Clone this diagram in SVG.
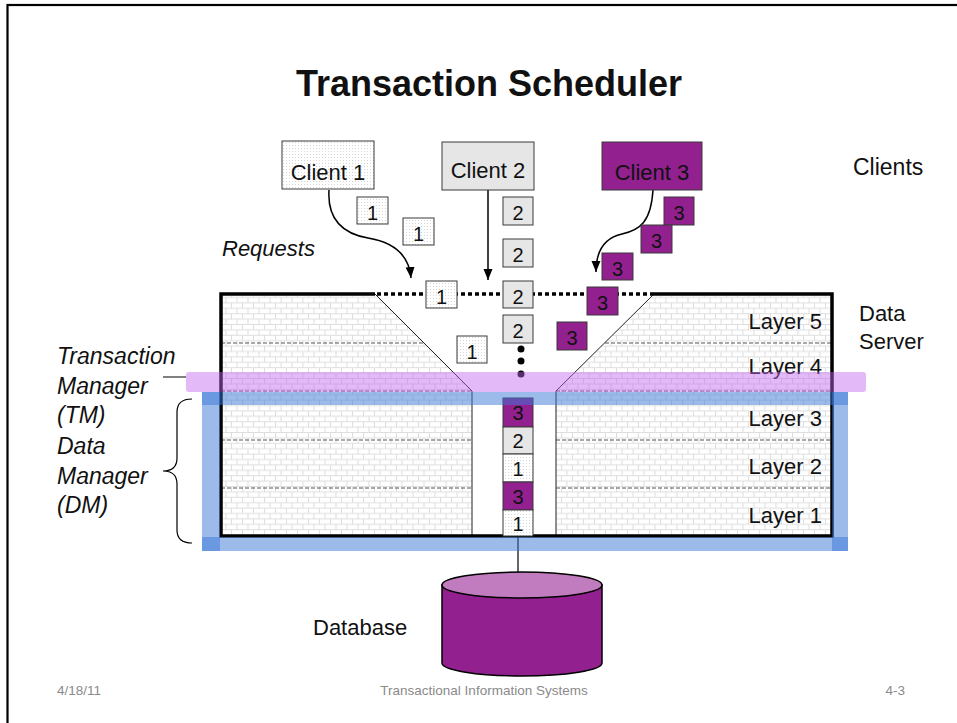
<svg xmlns="http://www.w3.org/2000/svg" width="957" height="723" viewBox="0 0 957 723">
<style>
.t{font-family:"Liberation Sans",Arial,sans-serif;fill:#111}
.it{font-style:italic}
.c{text-anchor:middle}
.r{text-anchor:end}
.num{font-family:"Liberation Sans",Arial,sans-serif;font-size:20px;text-anchor:middle;fill:#111}
.bx{stroke:#3a3a3a;stroke-width:1}
.w{fill:url(#dots)}
.g{fill:#e6e6e6}
.p{fill:#92208f}
.dash{stroke:#555;stroke-width:1;stroke-dasharray:4 2;fill:none}
.thin{stroke:#222;stroke-width:1;fill:none}
.blue{stroke:#3a78d8;stroke-opacity:0.5;fill:none}
.foot{font-family:"Liberation Sans",Arial,sans-serif;font-size:13.5px;fill:#8a8a8a}
</style>
<defs>
<pattern id="dots" width="3" height="3" patternUnits="userSpaceOnUse">
<rect width="3" height="3" fill="#ffffff"/>
<rect x="1" y="1" width="1" height="1" fill="#d6d6d6"/>
</pattern>
<pattern id="brick" width="11" height="10.8" patternUnits="userSpaceOnUse">
<rect width="11" height="10.8" fill="#ffffff"/>
<path d="M0,0.5H11M0,5.9H11M0.5,0V5.4M6,5.4V10.8" stroke="#dedede" stroke-width="1" fill="none"/>
</pattern>
<marker id="ah" markerUnits="userSpaceOnUse" markerWidth="12" markerHeight="10" refX="11" refY="4.5" orient="auto">
<path d="M0,0 L11,4.5 L0,9 z" fill="#000"/>
</marker>
</defs>

<rect x="7.5" y="5" width="980" height="760" fill="#fff" stroke="#000" stroke-width="2.2"/>

<text class="t c" x="489" y="96" font-size="36" font-weight="bold">Transaction Scheduler</text>

<g id="data-server">
<path d="M221,294 L375,294 L472,391 L472,536 L221,536 Z" fill="url(#brick)"/>
<path d="M654,294 L832,294 L832,536 L556,536 L556,391 Z" fill="url(#brick)"/>
<path class="dash" d="M221,343H424M605,343H832M221,391H472M556,391H832M221,440H472M556,440H832M221,488H472M556,488H832"/>
<path class="thin" d="M375,294 L472,391 L472,536 M654,294 L556,391 L556,536"/>
<path d="M375,294 L221,294 L221,536 L832,536 L832,294 L654,294" fill="none" stroke="#000" stroke-width="3.5"/>
<text class="t r" x="822" y="329" font-size="22">Layer 5</text>
<text class="t r" x="822" y="374" font-size="22">Layer 4</text>
<text class="t r" x="822" y="426" font-size="22">Layer 3</text>
<text class="t r" x="822" y="474" font-size="22">Layer 2</text>
<text class="t r" x="822" y="523" font-size="22">Layer 1</text>
<text class="t" x="859" y="321" font-size="22">Data</text>
<text class="t" x="859" y="349" font-size="22">Server</text>
</g>

<g id="connectors">
<path d="M377,294 H655" stroke="#000" stroke-width="3.5" stroke-dasharray="4 3" fill="none"/>
<path d="M329,190 C327,222 345,234 368,238 C392,242 409,254 411,278" fill="none" stroke="#000" stroke-width="1.5" marker-end="url(#ah)"/>
<path d="M488,190 L488,280" fill="none" stroke="#000" stroke-width="1.5" marker-end="url(#ah)"/>
<path d="M653,190 C651,222 640,230 622,234 C604,238 596,252 596,272" fill="none" stroke="#000" stroke-width="1.5" marker-end="url(#ah)"/>
<path d="M518,536 V573" stroke="#000" stroke-width="1.2"/>
<path d="M163,377 H186" stroke="#000" stroke-width="1"/>
</g>

<g id="client1">
<rect class="bx w" x="282" y="141" width="92" height="48"/>
<text class="t c" x="328" y="180" font-size="22">Client 1</text>
</g>
<g id="client2">
<rect class="bx g" x="442" y="142" width="92" height="48"/>
<text class="t c" x="488" y="178" font-size="22">Client 2</text>
</g>
<g id="client3">
<rect class="bx p" x="602" y="142" width="100" height="48"/>
<text class="t c" x="652" y="180" font-size="22">Client 3</text>
</g>
<g id="clients-label">
<text class="t" x="853" y="175" font-size="23">Clients</text>
</g>
<g id="requests-label">
<text class="t it" x="222" y="256" font-size="22">Requests</text>
</g>

<g id="requests1">
<rect class="bx w" x="357" y="197" width="31" height="27"/><text class="num" x="372.5" y="220">1</text>
<rect class="bx w" x="403" y="218" width="31" height="27"/><text class="num" x="418.5" y="241">1</text>
<rect class="bx w" x="426" y="281" width="31" height="27"/><text class="num" x="441.5" y="304">1</text>
<rect class="bx w" x="457" y="336" width="30" height="27"/><text class="num" x="472" y="359">1</text>
</g>
<g id="requests2">
<rect class="bx g" x="503" y="197" width="30" height="28"/><text class="num" x="518" y="220">2</text>
<rect class="bx g" x="503" y="239" width="30" height="28"/><text class="num" x="518" y="262">2</text>
<rect class="bx g" x="503" y="281" width="30" height="27"/><text class="num" x="518" y="304">2</text>
<rect class="bx g" x="503" y="315" width="30" height="28"/><text class="num" x="518" y="338">2</text>
<circle cx="521" cy="349" r="3.5" fill="#000"/>
<circle cx="521" cy="361" r="3.5" fill="#000"/>
<circle cx="521" cy="374" r="3.5" fill="#000"/>
</g>
<g id="requests3">
<rect class="bx p" x="664" y="197" width="30" height="28"/><text class="num" x="679" y="220">3</text>
<rect class="bx p" x="641" y="225" width="31" height="28"/><text class="num" x="656.5" y="248">3</text>
<rect class="bx p" x="602" y="253" width="31" height="27"/><text class="num" x="617.5" y="276">3</text>
<rect class="bx p" x="587" y="287" width="31" height="28"/><text class="num" x="602.5" y="310">3</text>
<rect class="bx p" x="557" y="322" width="30" height="28"/><text class="num" x="572" y="345">3</text>
</g>

<g id="scheduled-column">
<rect class="bx p" x="503" y="398" width="30" height="29"/><text class="num" x="518" y="420">3</text>
<rect class="bx g" x="503" y="427" width="30" height="27"/><text class="num" x="518" y="448">2</text>
<rect class="bx w" x="503" y="454" width="30" height="28"/><text class="num" x="518" y="476">1</text>
<rect class="bx p" x="503" y="482" width="30" height="28"/><text class="num" x="518" y="504">3</text>
<rect class="bx w" x="503" y="510" width="30" height="26"/><text class="num" x="518" y="531">1</text>
</g>

<g id="database">
<path d="M442,585 L442,663 A80,13 0 0 0 602,663 L602,585 Z" fill="#92208f" stroke="#000" stroke-width="1.5"/>
<ellipse cx="522" cy="585" rx="80" ry="13" fill="#c17cbf" stroke="#000" stroke-width="1.5"/>
<text class="t" x="313" y="635" font-size="22">Database</text>
</g>

<g id="tm-band">
<rect x="186" y="372" width="680" height="20" rx="3" fill="#c266ee" fill-opacity="0.45"/>
</g>
<g id="dm-band">
<path class="blue" stroke-width="13" d="M202,398.5H848"/>
<path class="blue" stroke-width="14" d="M202,544H848"/>
<path class="blue" stroke-width="18" d="M211,392V551"/>
<path class="blue" stroke-width="16" d="M840,392V551"/>
</g>

<g id="left-labels">
<path d="M192,399 Q177,399 177,412 L177,458 Q177,471 163,471 Q177,471 177,484 L177,530 Q177,543 192,543" fill="none" stroke="#000" stroke-width="1.2"/>
<text class="t it" x="57" y="364" font-size="23">Transaction</text>
<text class="t it" x="57" y="394" font-size="23">Manager</text>
<text class="t it" x="57" y="423" font-size="23">(TM)</text>
<text class="t it" x="57" y="454" font-size="23">Data</text>
<text class="t it" x="57" y="484" font-size="23">Manager</text>
<text class="t it" x="57" y="513" font-size="23">(DM)</text>
</g>

<g id="footer">
<text class="foot" x="57" y="695">4/18/11</text>
<text class="foot c" x="484" y="695">Transactional Information Systems</text>
<text class="foot r" x="905" y="695">4-3</text>
</g>
</svg>
